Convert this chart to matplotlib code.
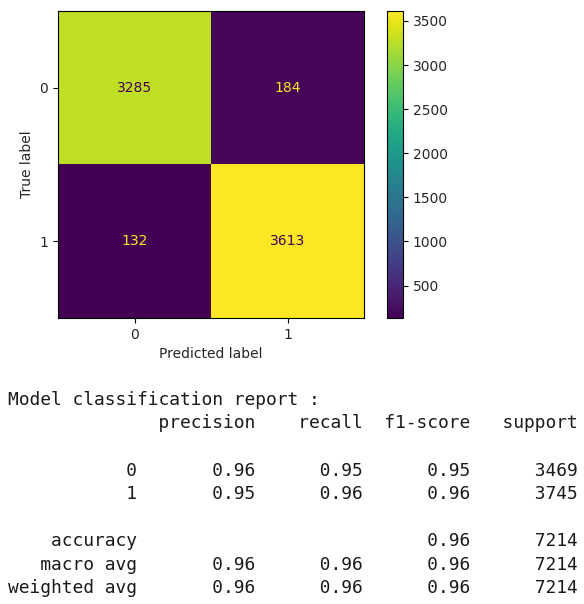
"""
Confusion matrix + classification report for the binary model
"""

import numpy as np
import matplotlib
matplotlib.use('Agg')
from matplotlib import pyplot as plt

# confusion matrix (rows = true, cols = predicted)
labels = ['0', '1']
cm = np.array([[3285, 184],
               [132, 3613]])

# classification report values
class_names = ['0', '1']
precision = [0.96, 0.95]
recall = [0.95, 0.96]
f1 = [0.95, 0.96]
support = [3469, 3745]
accuracy = 0.96
macro = [0.96, 0.96, 0.96]
weighted = [0.96, 0.96, 0.96]
total = 7214

W, H = 584, 604
DPI = 100


def px(x0, y0, x1, y1):
    # pixel box (top-left origin) -> figure fraction rect
    return [x0 / W, 1 - y1 / H, (x1 - x0) / W, (y1 - y0) / H]


def build_report():
    width = len('weighted avg')
    head = '{:>{w}s} '.format('', w=width) + ''.join(' {:>9}'.format(h) for h in
                                                     ['precision', 'recall', 'f1-score', 'support'])
    lines = ['Model classification report :', head, '']
    row_fmt = '{:>{w}s} ' + ' {:>9.2f}' * 3 + ' {:>9}'
    for name, p, r, f, s in zip(class_names, precision, recall, f1, support):
        lines.append(row_fmt.format(name, p, r, f, s, w=width))
    lines.append('')
    lines.append(('{:>{w}s} ' + ' {:>9}' * 2 + ' {:>9.2f}' + ' {:>9}').format(
        'accuracy', '', '', accuracy, total, w=width))
    lines.append(row_fmt.format('macro avg', *macro, total, w=width))
    lines.append(row_fmt.format('weighted avg', *weighted, total, w=width))
    return lines


def main():
    fig = plt.figure(figsize=(W / DPI, H / DPI), dpi=DPI)
    txt_c = '#262626'

    ax = fig.add_axes(px(58, 11, 364, 318))
    cmap = plt.get_cmap('viridis')
    im = ax.imshow(cm, cmap=cmap, interpolation='nearest',
                   vmin=cm.min(), vmax=cm.max(), aspect='auto')
    thresh = (cm.max() + cm.min()) / 2.0
    for i in range(cm.shape[0]):
        for j in range(cm.shape[1]):
            c = cmap(1.0) if cm[i, j] < thresh else cmap(0.0)
            ax.text(j, i, str(cm[i, j]), ha='center', va='center', color=c, fontsize=10)
    ax.set_xticks(range(len(labels)), labels, fontsize=10, color=txt_c)
    ax.set_yticks(range(len(labels)), labels, fontsize=10, color=txt_c)
    ax.set_xlabel('Predicted label', fontsize=10, color=txt_c)
    ax.set_ylabel('True label', fontsize=10, color=txt_c)

    cax = fig.add_axes(px(387, 11, 403, 318))
    cb = fig.colorbar(im, cax=cax)
    cb.ax.tick_params(labelsize=10, labelcolor=txt_c)

    y = 400
    for line in build_report():
        fig.text(8 / W, 1 - y / H, line, family='DejaVu Sans Mono', fontsize=12.9,
                 va='center', ha='left', color='#1a1a1a')
        y += 23.5

    fig.savefig('out.png', dpi=DPI, facecolor='white')


if __name__ == '__main__':
    main()
